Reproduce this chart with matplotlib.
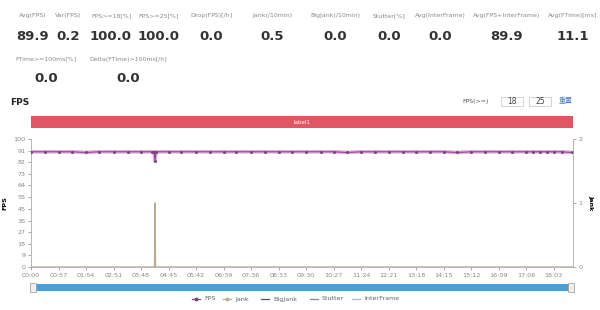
import matplotlib.pyplot as plt
from matplotlib.patches import Rectangle
import numpy as np

# summary panel
stat_names = ["Avg(FPS)", "Var(FPS)", "FPS>=18[%]", "FPS>=25[%]", "Drop(FPS)[/h]",
              "Jank(/10min)", "BigJank(/10min)", "Stutter[%]", "Avg(InterFrame)",
              "Avg(FPS+InterFrame)", "Avg(FTime)[ms]"]
stat_values = ["89.9", "0.2", "100.0", "100.0", "0.0", "0.5", "0.0", "0.0", "0.0", "89.9", "11.1"]
stat_names2 = ["FTime>=100ms[%]", "Delta(FTime)>100ms[/h]"]
stat_values2 = ["0.0", "0.0"]

# time series (seconds)
fps_t = [0, 30, 57, 85, 114, 140, 171, 200, 228, 250, 255, 257, 259, 285, 310, 342, 370,
         399, 425, 456, 485, 513, 540, 570, 600, 627, 655, 684, 712, 741, 770, 798,
         826, 855, 883, 912, 940, 969, 997, 1026, 1040, 1055, 1070, 1083, 1100, 1120]
fps_v = [90, 90, 90, 90, 89.5, 90, 90, 90, 90, 90, 90, 83, 90, 90, 90, 90, 90,
         90, 90, 90, 90, 90, 90, 90, 90, 90, 89.5, 90, 90, 90, 90, 90,
         90, 90, 89.5, 90, 90, 90, 90, 90, 90, 90, 90, 90, 90, 89.5]
jank_t = [0, 256, 257, 258, 1123]
jank_v = [0, 0, 1, 0, 0]

tick_step = 57
x_max = 1123
y_ticks = [0, 9, 18, 27, 36, 45, 55, 64, 73, 82, 91, 100]

fig = plt.figure(figsize=(6, 3.1), dpi=100)
W, H = 600, 310

def fx(px):
    return px / W

def fy(py):
    return 1 - py / H

label_c = "#8a8a8a"
centers = [33, 68, 111, 159, 211, 272, 335, 389, 440, 507, 573]
for name, val, cx in zip(stat_names, stat_values, centers):
    fig.text(fx(cx), fy(16), name, ha="center", va="center", fontsize=4.5, color=label_c)
    fig.text(fx(cx), fy(36), val, ha="center", va="center", fontsize=9.5,
             fontweight="bold", color="#333333")
for name, val, cx in zip(stat_names2, stat_values2, [46, 128]):
    fig.text(fx(cx), fy(59), name, ha="center", va="center", fontsize=4.5, color=label_c)
    fig.text(fx(cx), fy(78), val, ha="center", va="center", fontsize=9.5,
             fontweight="bold", color="#333333")

fig.text(fx(10), fy(102), "FPS", ha="left", va="center", fontsize=6.5, fontweight="bold", color="#222222")
fig.text(fx(489), fy(101), "FPS(>=)", ha="right", va="center", fontsize=4.5, color="#555555")
for val, cx in [("18", 512), ("25", 540)]:
    fig.patches.append(Rectangle((fx(cx - 11), fy(106)), fx(22), 9 / H, transform=fig.transFigure,
                                 facecolor="white", edgecolor="#cccccc", lw=0.6))
    fig.text(fx(cx), fy(101.5), val, ha="center", va="center", fontsize=5.5, color="#444444")
fig.text(fx(566), fy(101), "重置", ha="center", va="center", fontsize=5,
         color="#4a7fc8", family=["Noto Sans CJK SC", "DejaVu Sans"])

# red label band
fig.patches.append(Rectangle((fx(31), fy(128)), fx(542), 12 / H, transform=fig.transFigure,
                             facecolor="#e25563", edgecolor="none"))
fig.text(fx(302), fy(122), "label1", ha="center", va="center", fontsize=4, color="white")

# main plot
ax = fig.add_axes([fx(31), fy(267), fx(542), 128 / H])
ax.plot(fps_t, fps_v, color="#e9a6e0", lw=2.6, solid_capstyle="butt", zorder=2)
ax.plot(fps_t, fps_v, color="#7a4680", lw=0.7, marker="o", ms=1.2, zorder=3)
ax.set_xlim(0, x_max)
ax.set_ylim(0, 100)
ax.set_yticks(y_ticks)
ax.set_yticklabels([str(v) for v in y_ticks])
xt = np.arange(0, x_max, tick_step)
ax.set_xticks(xt)
ax.set_xticklabels(["%02d:%02d" % (t // 60, t % 60) for t in xt])
ax.tick_params(labelsize=4.6, colors="#888888", length=2, width=0.5, pad=2)
for s in ["top", "right"]:
    ax.spines[s].set_visible(False)
for s in ["left", "bottom"]:
    ax.spines[s].set_color("#aaaaaa")
    ax.spines[s].set_linewidth(0.6)
ax.set_ylabel("FPS", fontsize=4.6, fontweight="bold", labelpad=4)

ax2 = ax.twinx()
ax2.plot(jank_t, jank_v, color="#b9ab90", lw=1.0, zorder=2)
ax2.set_ylim(0, 2)
ax2.set_yticks([0, 1, 2])
ax2.tick_params(labelsize=4.6, colors="#888888", length=2, width=0.5, pad=2)
for s in ["top", "left", "bottom"]:
    ax2.spines[s].set_visible(False)
ax2.spines["right"].set_color("#aaaaaa")
ax2.spines["right"].set_linewidth(0.6)
ax2.set_ylabel("Jank", fontsize=4.6, fontweight="bold", rotation=-90, labelpad=8)

# zoom slider
fig.patches.append(Rectangle((fx(33), fy(291)), fx(538), 7 / H, transform=fig.transFigure,
                             facecolor="#46a0dc", edgecolor="none"))
for hx in [33, 571]:
    fig.patches.append(Rectangle((fx(hx - 3), fy(292)), fx(6), 9 / H, transform=fig.transFigure,
                                 facecolor="#eeeeee", edgecolor="#999999", lw=0.5))

# legend
leg_items = [("FPS", "#7a4680", "o"), ("Jank", "#b9ab90", "o"), ("BigJank", "#555555", None),
             ("Stutter", "#8a8a8a", None), ("InterFrame", "#a8c0d0", None)]
leg_x = [198, 229, 267, 316, 358]
for (name, c, m), lx in zip(leg_items, leg_x):
    fig.lines.append(plt.Line2D([fx(lx - 6), fx(lx - 2), fx(lx + 2)], [fy(299)] * 3,
                                transform=fig.transFigure, color=c, lw=0.9, marker=m, ms=1.8,
                                markevery=[1] if m else None))
    fig.text(fx(lx + 6), fy(299), name, ha="left", va="center", fontsize=4.6, color="#666666")

fig.savefig("out.png", dpi=100, facecolor="white")
